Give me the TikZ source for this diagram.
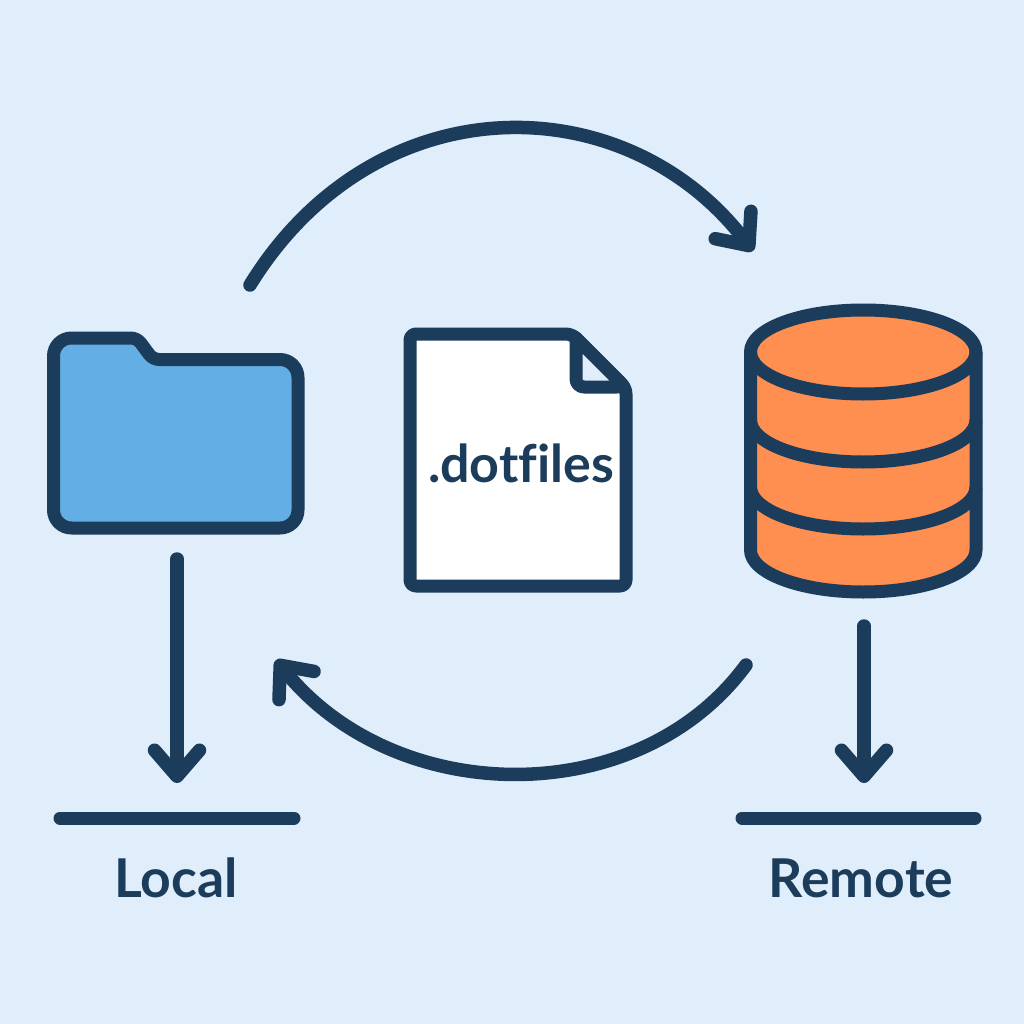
\documentclass[tikz,border=0pt]{standalone}
\usepackage{fontspec}
\setmainfont{Lato}[Ligatures=NoCommon]
\usepackage{xcolor}
\usetikzlibrary{arrows.meta}
\definecolor{bgblue}{HTML}{E0EDFA}
\definecolor{ink}{HTML}{1B3C5B}
\definecolor{folderblue}{HTML}{63AEE4}
\definecolor{dborange}{HTML}{FF8F50}
\tikzset{
  shapeline/.style={draw=ink, line width=13pt, line join=round},
  flowline/.style={draw=ink, line width=13.5pt, line cap=round, line join=round,
    -{Straight Barb[round, length=26pt, width=45pt]}},
  baseline/.style={draw=ink, line width=13pt, line cap=round},
  caption/.style={text=ink, font=\fontsize{53.5}{53.5}\selectfont\bfseries, anchor=base},
  anchorbox/.style={inner sep=0pt, outer sep=0pt}
}

\begin{document}
\begin{tikzpicture}[x=1pt, y=-1pt]
    \useasboundingbox[fill=bgblue] (0,0) rectangle (1024,1024);

    % folder
    \path[shapeline, fill=folderblue, rounded corners=18pt] (53.5,528) -- (53.5,338)
        {[rounded corners=6pt] -- (137,338) -- (153,359.5)} -- (298,359.5) -- (298,528) -- cycle;
    \node[anchorbox, minimum width=257pt, minimum height=202pt] at (176,433) (folder) {};

    % file
    \path[shapeline, fill=white, rounded corners=6pt] (410,586) -- (410,334) -- (572,334)
        -- (626,388) -- (626,586) -- cycle;
    \path[shapeline, fill=bgblue] (576,338) {[rounded corners=8pt] -- (576,387) -- (625,387)} -- cycle;
    \node[anchorbox, caption, font=\fontsize{52}{52}\selectfont\bfseries] at (521,482) (doc) {.dotfiles};

    % database
    \path[shapeline, fill=dborange] (750.5,352) -- (750.5,550) arc[start angle=180, end angle=360, x radius=112.75pt, y radius=42pt]
        -- (976,352) arc[start angle=0, end angle=180, x radius=112.75pt, y radius=42pt] -- cycle;
    \draw[shapeline] (750.5,352) arc[start angle=180, end angle=360, x radius=112.75pt, y radius=42pt];
    \draw[shapeline] (750.5,420) arc[start angle=180, end angle=360, x radius=112.75pt, y radius=42pt];
    \draw[shapeline] (750.5,487) arc[start angle=180, end angle=360, x radius=112.75pt, y radius=42pt];
    \node[anchorbox, minimum width=238pt, minimum height=294pt] at (863,451) (db) {};

    % levels
    \coordinate (localL) at (60,818);
    \coordinate (localR) at (294,818);
    \coordinate (localmid) at (177,818);
    \coordinate (remoteL) at (742,818);
    \coordinate (remoteR) at (975,818);
    \coordinate (remotemid) at (864,818);
    \draw[baseline] (localL) -- (localR);
    \draw[baseline] (remoteL) -- (remoteR);

    \node[caption] at (176,897) (local) {Local};
    \node[caption] at (861,897) (remote) {Remote};

    \draw[flowline, shorten <=25pt, shorten >=35pt] (folder.south -| localmid) -- (localmid);
    \draw[flowline, shorten <=28pt, shorten >=35pt] (db.south -| remotemid) -- (remotemid);

    % sync arcs
    \coordinate (pushstart) at (250,285);
    \coordinate (pushend) at (753,251);
    \coordinate (pullstart) at (746,665);
    \coordinate (pullend) at (276,660);
    \draw[flowline] (pushstart) .. controls (375,82) and (625,84) .. (pushend);
    \draw[flowline] (pullstart) .. controls (638,812) and (395,808) .. (pullend);
\end{tikzpicture}
\end{document}
